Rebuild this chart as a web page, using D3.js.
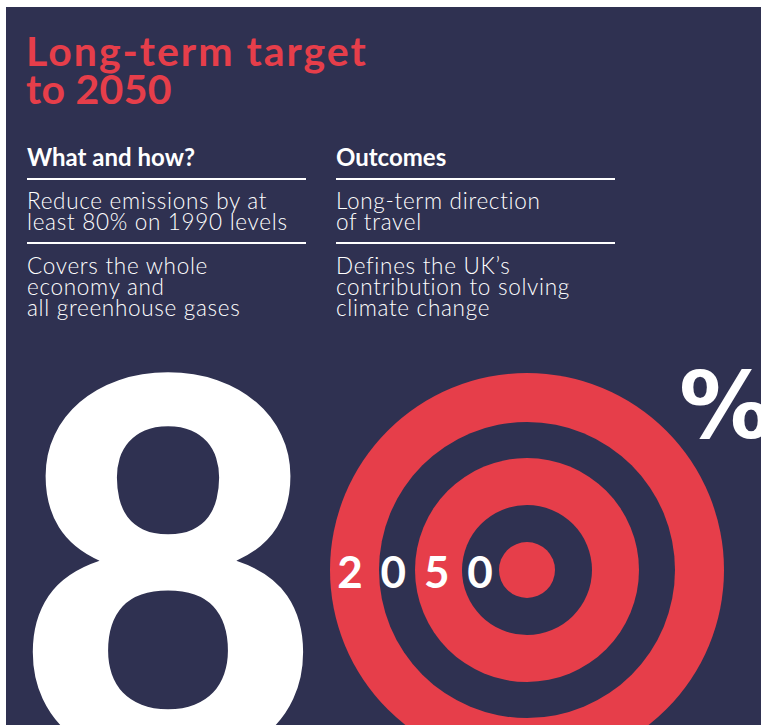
<!DOCTYPE html>
<html>
<head>
<meta charset="utf-8">
<script src="https://cdn.jsdelivr.net/npm/d3@7"></script>
<style>
  body { margin: 0; background: #fff; }
  svg { display: block; }
</style>
</head>
<body>
<svg id="chart" width="762" height="725"></svg>
<script>
// ---- data ----
const titleLines = ["Long-term target", "to 2050"];
const columnHeads = ["What and how?", "Outcomes"];
const whatHow = [
  ["Reduce emissions by at", "least 80% on 1990 levels"],
  ["Covers the whole", "economy and", "all greenhouse gases"]
];
const outcomes = [
  ["Long-term direction", "of travel"],
  ["Defines the UK\u2019s", "contribution to solving", "climate change"]
];
const targetValue = "80";
const targetUnit = "%";
const targetYear = ["2", "0", "5", "0"];
const ringRadii = [197, 148, 112, 65, 28];   // target rings, outer to inner

// ---- layout ----
const W = 762, H = 725;
const navy = "#2f3151", red = "#e63e4a";
const fontFam = "Lato, 'Open Sans', sans-serif";

const svg = d3.select("#chart");

svg.append("rect")
  .attr("x", 6).attr("y", 7)
  .attr("width", W - 7).attr("height", H - 7)
  .attr("fill", navy);

// title (one text, a tspan per line)
svg.append("text")
  .attr("fill", red)
  .attr("font-family", fontFam)
  .attr("font-weight", 700)
  .attr("font-size", 41)
  .selectAll("tspan")
  .data(titleLines)
  .join("tspan")
  .attr("x", 26)
  .attr("y", (d, i) => 66 + i * 38)
  .attr("letter-spacing", (d, i) => i === 0 ? 2 : 0.3)
  .text(d => d);

// two text columns
const colX = d3.scaleOrdinal().domain([0, 1]).range([27, 336]);
const colW = 279;
const cols = [whatHow, outcomes];

cols.forEach((blocks, c) => {
  const g = svg.append("g").attr("transform", `translate(${colX(c)},0)`);

  g.append("text")
    .attr("x", 0).attr("y", 166)
    .attr("fill", "#fff")
    .attr("font-family", fontFam)
    .attr("font-weight", 700)
    .attr("font-size", 24)
    .text(columnHeads[c]);

  const ruleY = [179, 243];
  g.selectAll("line")
    .data(ruleY)
    .join("line")
    .attr("x1", 0).attr("x2", colW)
    .attr("y1", d => d).attr("y2", d => d)
    .attr("stroke", "#fff")
    .attr("stroke-width", 2);

  const blockTop = [209, 274];
  blocks.forEach((lines, b) => {
    g.append("text")
      .attr("fill", "#fff")
      .attr("font-family", fontFam)
      .attr("font-weight", 300)
      .attr("font-size", 22.5)
      .attr("letter-spacing", 0.7)
      .selectAll("tspan")
      .data(lines)
      .join("tspan")
      .attr("x", 0)
      .attr("y", (d, i) => blockTop[b] + i * 21)
      .text(d => d);
  });
});

// clip for the big figure area
svg.append("clipPath").attr("id", "panel")
  .append("rect")
  .attr("x", 6).attr("y", 7)
  .attr("width", W - 7).attr("height", H - 7);

const big = svg.append("g").attr("clip-path", "url(#panel)");

// big "8"
big.append("text")
  .attr("x", 168)
  .attr("y", 761)
  .attr("text-anchor", "middle")
  .attr("fill", "#fff")
  .attr("font-family", fontFam)
  .attr("font-weight", 900)
  .attr("font-size", 530)
  .text(targetValue[0]);

// target rings stand in for the "0"
const cx = 527, cy = 570;
const r = d3.scaleLinear().domain([0, 197]).range([0, 197]);
big.append("g").selectAll("circle")
  .data(ringRadii)
  .join("circle")
  .attr("cx", cx).attr("cy", cy)
  .attr("r", d => r(d))
  .attr("fill", (d, i) => i % 2 === 0 ? red : navy);

// "%"
big.append("text")
  .attr("x", 679)
  .attr("y", 438)
  .attr("fill", "#fff")
  .attr("font-family", "'DejaVu Sans', sans-serif")
  .attr("font-weight", 700)
  .attr("font-size", 93)
  .text(targetUnit);

// year digits along the rings
const yx = d3.scalePoint().domain(d3.range(targetYear.length)).range([350, 480]);
big.append("g").selectAll("text")
  .data(targetYear)
  .join("text")
  .attr("x", (d, i) => yx(i))
  .attr("y", 588)
  .attr("text-anchor", "middle")
  .attr("fill", "#fff")
  .attr("font-family", fontFam)
  .attr("font-weight", 700)
  .attr("font-size", 44)
  .text(d => d);
</script>
</body>
</html>
